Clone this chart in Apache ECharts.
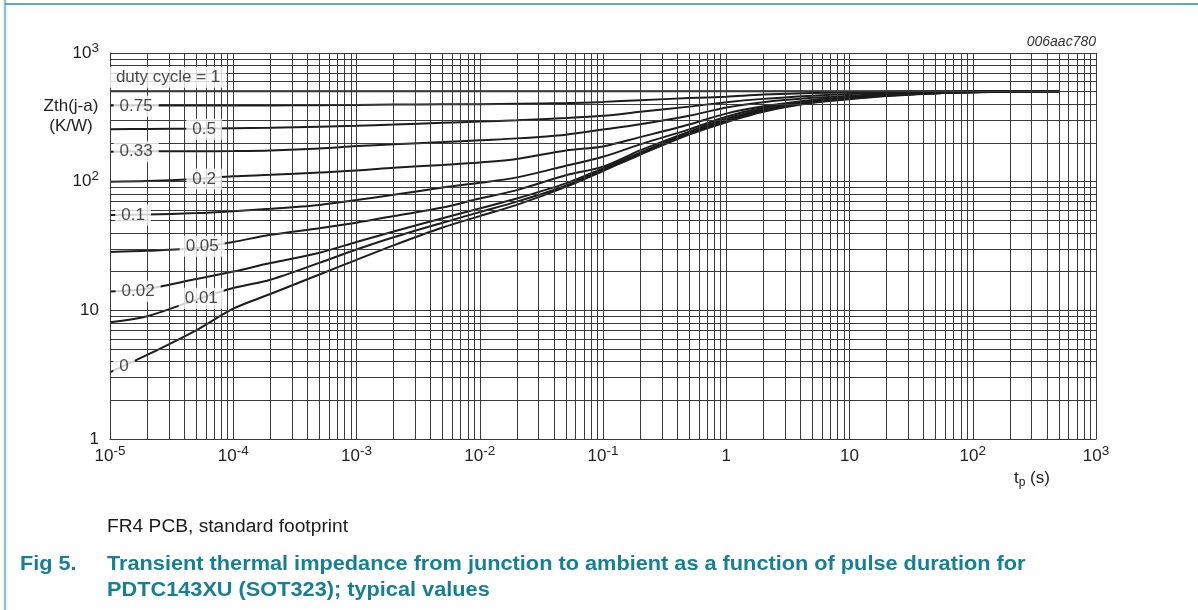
<!DOCTYPE html>
<html>
<head>
<meta charset="utf-8">
<script src="https://cdn.jsdelivr.net/npm/echarts@6/dist/echarts.min.js"></script>
<style>
html,body{margin:0;padding:0;background:#fff;}
#chart{width:1198px;height:610px;}
</style>
</head>
<body>
<div id="chart"></div>
<script>
// ---- data ----
const tp = [1e-5, 2e-5, 5e-5, 1e-4, 2e-4, 5e-4, 1e-3, 2e-3, 5e-3, 1e-2, 2e-2, 5e-2, 0.1, 0.2, 0.5, 1, 2, 5, 10, 20, 50, 100, 200, 500];
const z_1    = [505,505,505,505,505,505,505,505,505,505,505,505,505,505,505,505,505,505,505,505,505,505,505,505];
const z_075  = [390,390,390,390,391,393,395,397,399,400,403,408,417,430,446,458,475,488,495,500,502,504,505,505];
const z_05   = [256,257,258,260,262,267,272,278,287,293,300,312,325,349,383,415,440,465,480,490,497,501,504,505];
const z_033  = [171,172,172,173,175,181,189,195,203,210,217,232,254,279,325,377,415,448,465,480,492,499,503,505];
const z_02   = [100,101,105,110,113,118,122,128,135,141,150,175,188,222,278,338,385,432,457,476,490,498,502,505];
const z_01   = [55,55.5,57,59,61.5,66,72,79,90,98,108,133,156,195,255,320,375,425,452,473,489,497,502,505];
const z_005  = [28.4,29,30.5,34,38.6,43.5,48,54,63,74,86,112,131,175,245,308,365,420,448,470,488,496,501,505];
const z_002  = [14,14.7,17.5,20,23.3,28,34,41,52,62,74,97,127,168,240,300,360,417,445,468,487,496,501,505];
const z_001  = [8.07,9,12.1,14.9,17.3,23.4,29.7,37,48,58,70,93,124,165,237,295,355,413,442,466,486,495,501,505];
const z_0    = [3.3,4.5,7.0,10.3,13.4,19,24.7,32,44,54,66,91,121,162,232,290,350,410,438,463,485,495,501,505];
const curves = [z_1, z_075, z_05, z_033, z_02, z_01, z_005, z_002, z_001, z_0];

const labelText = ['duty cycle = 1', '0.75', '0.5', '0.33', '0.2', '0.1', '0.05', '0.02', '0.01', '0'];
const labelTp   = [2.96e-5, 1.63e-5, 5.8e-5, 1.63e-5, 5.8e-5, 1.54e-5, 5.6e-5, 1.69e-5, 5.5e-5, 1.3e-5];
const labelZ    = [647, 386, 256, 171, 105, 55, 31.5, 14.1, 12.4, 3.68];

const decadesX = [-5, -4, -3, -2, -1, 0, 1, 2];
const decadesY = [0, 1, 2];
const mult = [1, 2, 3, 4, 5, 6, 7, 8, 9];

const FONT = '"Liberation Sans", Arial, Helvetica, sans-serif';
const TEAL = '#167f93';

const xGrid = [];
decadesX.forEach(e => mult.forEach(m => xGrid.push(m * Math.pow(10, e))));
xGrid.push(1000);
const yGrid = [];
decadesY.forEach(e => mult.forEach(m => yGrid.push(m * Math.pow(10, e))));
yGrid.push(1000);

function powLabel(v) {
  const e = Math.round(Math.log10(v));
  if (e === 0) return '{b|1}';
  if (e === 1) return '{b|10}';
  return '{b|10}{s|' + e + '}';
}
const rich = {
  b: {fontSize: 17, lineHeight: 24, color: '#222', fontFamily: FONT},
  s: {fontSize: 13.5, lineHeight: 13, verticalAlign: 'top', color: '#222', fontFamily: FONT}
};

const series = [];
series.push({
  type: 'line', data: [[1e-5, 1], [1000, 1000]], showSymbol: false,
  lineStyle: {opacity: 0}, silent: true, z: 1,
  markLine: {
    silent: true, symbol: ['none', 'none'], animation: false, precision: 12,
    label: {show: false},
    lineStyle: {color: '#3a3a3a', width: 1, type: 'solid'},
    emphasis: {disabled: true},
    data: xGrid.map(v => ({xAxis: v})).concat(yGrid.map(v => ({yAxis: v})))
  }
});
curves.forEach((c, i) => {
  series.push({
    type: 'line', name: labelText[i], smooth: 0.3, showSymbol: false, silent: true, z: 3,
    lineStyle: {color: '#1c1c1c', width: 2},
    data: tp.map((t, k) => [t, c[k]])
  });
});
series.push({
  type: 'scatter', silent: true, z: 10, symbolSize: 1,
  itemStyle: {color: 'rgba(0,0,0,0)'},
  label: {
    show: true, position: 'inside', formatter: p => p.data[2],
    backgroundColor: '#fff', padding: [2, 6], fontSize: 17, color: '#1c1c1c', fontFamily: FONT
  },
  labelLayout: {hideOverlap: false},
  data: labelText.map((t, i) => [labelTp[i], labelZ[i], t])
});

const chart = echarts.init(document.getElementById('chart'), null, {renderer: 'canvas'});
chart.setOption({
  animation: false,
  backgroundColor: '#fff',
  grid: {left: 110, top: 53, width: 986, height: 386, containLabel: false},
  xAxis: {
    type: 'log', logBase: 10, min: 1e-5, max: 1000, splitNumber: 8,
    axisLine: {show: true, lineStyle: {color: '#222', width: 1}},
    axisTick: {show: false}, splitLine: {show: false},
    axisLabel: {margin: 5, formatter: powLabel, rich: rich}
  },
  yAxis: {
    type: 'log', logBase: 10, min: 1, max: 1000, splitNumber: 3,
    axisLine: {show: true, lineStyle: {color: '#222', width: 1}},
    axisTick: {show: false}, splitLine: {show: false},
    axisLabel: {margin: 11, formatter: powLabel, rich: rich}
  },
  series: series,
  graphic: [
    {type: 'line', silent: true, shape: {x1: 5, y1: 0, x2: 5, y2: 610}, style: {stroke: '#8cc5d2', lineWidth: 2.5}},
    {type: 'line', silent: true, shape: {x1: 5, y1: 4, x2: 1198, y2: 4}, style: {stroke: '#2a8ea0', lineWidth: 1.5}},
    {type: 'text', silent: true, style: {text: 'Zth(j-a)', x: 71, y: 106, textAlign: 'center', textVerticalAlign: 'middle', font: '17px ' + FONT, fill: '#222'}},
    {type: 'text', silent: true, style: {text: '(K/W)', x: 71, y: 126, textAlign: 'center', textVerticalAlign: 'middle', font: '17px ' + FONT, fill: '#222'}},
    {type: 'text', silent: true, style: {text: '006aac780', x: 1096, y: 42, textAlign: 'right', textVerticalAlign: 'middle', font: 'italic 14px ' + FONT, fill: '#333'}},
    {type: 'text', silent: true, style: {
      text: '{t|t}{p|p}{t| (s)}', x: 1014, y: 478, textVerticalAlign: 'middle',
      rich: {t: {fontSize: 17, lineHeight: 22, fontFamily: FONT, fill: '#222', color: '#222'},
             p: {fontSize: 12, lineHeight: 12, verticalAlign: 'bottom', fontFamily: FONT, fill: '#222', color: '#222'}}
    }},
    {type: 'text', silent: true, x: 107, y: 527, scaleX: 1.066, style: {text: 'FR4 PCB, standard footprint', x: 0, y: 0, textVerticalAlign: 'middle', font: '18px ' + FONT, fill: '#1a1a1a'}},
    {type: 'text', silent: true, x: 20, y: 565, scaleX: 1.11, style: {text: 'Fig 5.', x: 0, y: 0, textVerticalAlign: 'middle', font: 'bold 19.5px ' + FONT, fill: TEAL}},
    {type: 'text', silent: true, x: 107, y: 565, scaleX: 1.114, style: {text: 'Transient thermal impedance from junction to ambient as a function of pulse duration for', x: 0, y: 0, textVerticalAlign: 'middle', font: 'bold 19.5px ' + FONT, fill: TEAL}},
    {type: 'text', silent: true, x: 107, y: 591, scaleX: 1.114, style: {text: 'PDTC143XU (SOT323); typical values', x: 0, y: 0, textVerticalAlign: 'middle', font: 'bold 19.5px ' + FONT, fill: TEAL}}
  ]
});
</script>
</body>
</html>
